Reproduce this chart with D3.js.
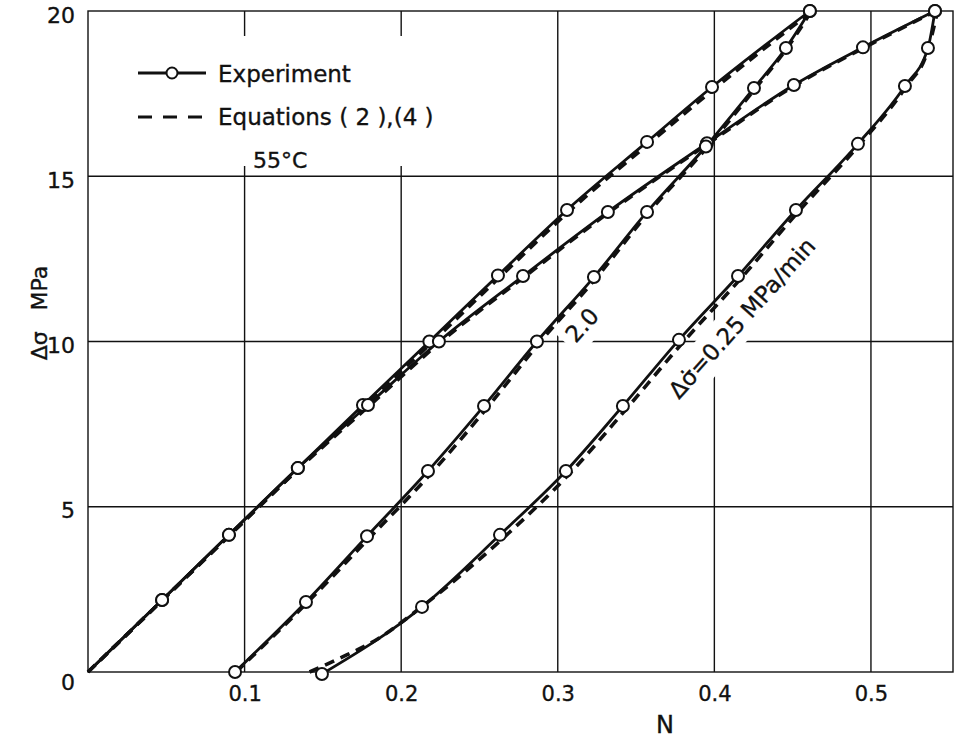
<!DOCTYPE html>
<html>
<head>
<meta charset="utf-8">
<script src="https://cdn.jsdelivr.net/npm/d3@7"></script>
<style>
  body { margin: 0; background: #fff; }
  svg { display: block; font-family: "DejaVu Sans", sans-serif; }
  svg text { stroke: #111; stroke-width: 0.35px; }
</style>
</head>
<body>
<div id="chart"></div>
<script>
// Axis ticks
const xTicks = [0.1, 0.2, 0.3, 0.4, 0.5];
const yTicks = [0, 5, 10, 15, 20];
const xGrid = [0.1, 0.2, 0.3, 0.4, 0.5];
const yGrid = [5, 10, 15];

// Experiment, [N, delta sigma MPa]
const expFastA = [[0, 0], [0.0473, 2.18], [0.090, 4.15], [0.134, 6.17], [0.1756, 8.08], [0.218, 10.0],
  [0.2618, 12.0], [0.3059, 13.98], [0.357, 16.04], [0.3985, 17.7], [0.461, 20]];
const expFastB = [[0, 0], [0.0473, 2.18], [0.090, 4.15], [0.134, 6.17], [0.1788, 8.08], [0.2241, 10.0],
  [0.2778, 11.98], [0.332, 13.92], [0.3953, 16.0], [0.4508, 17.76], [0.4949, 18.9], [0.5409, 20]];
const exp20 = [[0.0939, 0], [0.1392, 2.12], [0.1782, 4.11], [0.2171, 6.08], [0.2529, 8.05], [0.2867, 10.0],
  [0.3231, 11.95], [0.357, 13.92], [0.3946, 15.9], [0.4253, 17.67], [0.4457, 18.88], [0.461, 20]];
const exp025 = [[0.1494, -0.06], [0.2133, 1.97], [0.2631, 4.15], [0.3052, 6.08], [0.3416, 8.05], [0.3774, 10.05],
  [0.4151, 11.98], [0.4521, 13.98], [0.4917, 15.98], [0.5217, 17.73], [0.5364, 18.88], [0.5409, 20]];

// Equations (2),(4)
const eqFastA = [[0, 0], [0.0475, 2.17], [0.0905, 4.14], [0.1345, 6.15], [0.1765, 8.05], [0.2195, 9.97],
  [0.263, 11.95], [0.3075, 13.95], [0.3585, 16.0], [0.4, 17.65], [0.4625, 20]];
const eqFastB = [[0, 0], [0.0475, 2.17], [0.0905, 4.14], [0.1345, 6.15], [0.1795, 8.05], [0.225, 9.98],
  [0.2785, 11.95], [0.3325, 13.9], [0.3958, 15.98], [0.4512, 17.74], [0.4952, 18.88], [0.5415, 20]];
const eq20 = [[0.0945, 0], [0.14, 2.1], [0.18, 4.07], [0.2195, 6.03], [0.255, 8.0], [0.2885, 9.97],
  [0.3245, 11.92], [0.358, 13.9], [0.3955, 15.88], [0.426, 17.65], [0.4465, 18.88], [0.462, 20]];
const eq025 = [[0.1415, 0], [0.16, 0.4], [0.185, 1.0], [0.2133, 1.98], [0.2651, 4.05], [0.3075, 6.0],
  [0.3436, 7.95], [0.3795, 9.95], [0.4168, 11.9], [0.4535, 13.92], [0.4925, 15.95], [0.5222, 17.7],
  [0.5366, 18.85], [0.5425, 20]];

const expSeries = [expFastA, expFastB, exp20, exp025];
const eqSeries = [eqFastA, eqFastB, eq20, eq025];

const width = 954, height = 739;
const margin = { top: 11, right: 1, bottom: 67, left: 88 };

const svg = d3.select("#chart")
  .append("svg")
  .attr("width", width)
  .attr("height", height);

const x = d3.scaleLinear()
  .domain([0, 0.5524])
  .range([margin.left, width - margin.right]);

const y = d3.scaleLinear()
  .domain([0, 20])
  .range([height - margin.bottom, margin.top]);

// Gridlines
svg.append("g")
  .selectAll("line")
  .data(xGrid)
  .join("line")
  .attr("x1", d => x(d)).attr("x2", d => x(d))
  .attr("y1", y(0)).attr("y2", y(20))
  .attr("stroke", "#111").attr("stroke-width", 1.4);

svg.append("g")
  .selectAll("line")
  .data(yGrid)
  .join("line")
  .attr("x1", x(0)).attr("x2", x.range()[1])
  .attr("y1", d => y(d)).attr("y2", d => y(d))
  .attr("stroke", "#111").attr("stroke-width", 1.4);

// Frame
svg.append("rect")
  .attr("x", x(0)).attr("y", y(20))
  .attr("width", x.range()[1] - x(0))
  .attr("height", y(0) - y(20))
  .attr("fill", "none")
  .attr("stroke", "#111")
  .attr("stroke-width", 1.4);

// Axes
const xAxis = svg.append("g")
  .attr("transform", `translate(0,${y(0)})`)
  .call(d3.axisBottom(x).tickValues(xTicks).tickSize(0).tickPadding(14).tickFormat(d3.format(".1f")));
xAxis.select(".domain").remove();
xAxis.selectAll("text").attr("font-size", 21).attr("font-family", "DejaVu Sans").attr("fill", "#111");

const yAxis = svg.append("g")
  .attr("transform", `translate(${x(0)},0)`)
  .call(d3.axisLeft(y).tickValues(yTicks).tickSize(0).tickPadding(13));
yAxis.select(".domain").remove();
yAxis.selectAll("text")
  .attr("font-size", 22).attr("font-family", "DejaVu Sans").attr("fill", "#111")
  .attr("dy", d => d === 0 ? "0.8em" : "0.5em");

svg.append("text")
  .attr("x", 665).attr("y", 733)
  .attr("text-anchor", "middle")
  .attr("font-size", 24)
  .attr("fill", "#111")
  .text("N");

svg.append("text")
  .attr("transform", "translate(47,313) rotate(-90)")
  .attr("text-anchor", "middle")
  .attr("font-size", 22)
  .attr("fill", "#111")
  .attr("xml:space", "preserve")
  .text("Δσ   MPa");

// Legend
svg.append("rect")
  .attr("x", 112).attr("y", 36).attr("width", 330).attr("height", 130)
  .attr("fill", "#fff");

svg.append("line")
  .attr("x1", 138).attr("x2", 206).attr("y1", 73).attr("y2", 73)
  .attr("stroke", "#111").attr("stroke-width", 2.8);
svg.append("circle")
  .attr("cx", 172).attr("cy", 73).attr("r", 5.5)
  .attr("fill", "#fff").attr("stroke", "#111").attr("stroke-width", 2);
svg.append("text")
  .attr("x", 218).attr("y", 82)
  .attr("font-size", 23).attr("fill", "#111")
  .text("Experiment");

svg.append("line")
  .attr("x1", 138).attr("x2", 202).attr("y1", 117).attr("y2", 117)
  .attr("stroke", "#111").attr("stroke-width", 3)
  .attr("stroke-dasharray", "14,11");
svg.append("text")
  .attr("x", 218).attr("y", 125)
  .attr("font-size", 23).attr("fill", "#111")
  .attr("xml:space", "preserve")
  .text("Equations ( 2 ),(4 )");

svg.append("text")
  .attr("x", 253).attr("y", 168)
  .attr("font-size", 22).attr("fill", "#111")
  .text("55°C");

// Rotated curve labels with white backing
function addRotatedLabel(cx, cy, angle, label, size, pad) {
  const g = svg.append("g")
    .attr("transform", `translate(${cx},${cy}) rotate(${angle})`);
  const bg = g.append("rect").attr("fill", "#fff");
  const t = g.append("text")
    .attr("text-anchor", "middle")
    .attr("dominant-baseline", "central")
    .attr("font-size", size)
    .attr("fill", "#111")
    .text(label);
  const bb = t.node().getBBox();
  bg.attr("x", bb.x - pad).attr("y", bb.y - pad)
    .attr("width", bb.width + 2 * pad).attr("height", bb.height + 2 * pad);
}

addRotatedLabel(582, 325, -48, "2.0", 23, 6);
addRotatedLabel(742, 318, -48, "Δσ̇=0.25 MPa/min", 23, 6);

// Curves
const line = d3.line()
  .x(d => x(d[0]))
  .y(d => y(d[1]))
  .curve(d3.curveMonotoneX);

svg.append("g")
  .selectAll("path")
  .data(expSeries)
  .join("path")
  .attr("fill", "none")
  .attr("stroke", "#111")
  .attr("stroke-width", 2.8)
  .attr("d", line);

svg.append("g")
  .selectAll("path")
  .data(eqSeries)
  .join("path")
  .attr("fill", "none")
  .attr("stroke", "#111")
  .attr("stroke-width", 3.6)
  .attr("stroke-dasharray", "10,7")
  .attr("d", line);

svg.append("g")
  .selectAll("circle")
  .data(expSeries.flat().filter(d => !(d[0] === 0 && d[1] === 0)))
  .join("circle")
  .attr("cx", d => x(d[0]))
  .attr("cy", d => y(d[1]))
  .attr("r", 6)
  .attr("fill", "#fff")
  .attr("stroke", "#111")
  .attr("stroke-width", 2);
</script>
</body>
</html>
